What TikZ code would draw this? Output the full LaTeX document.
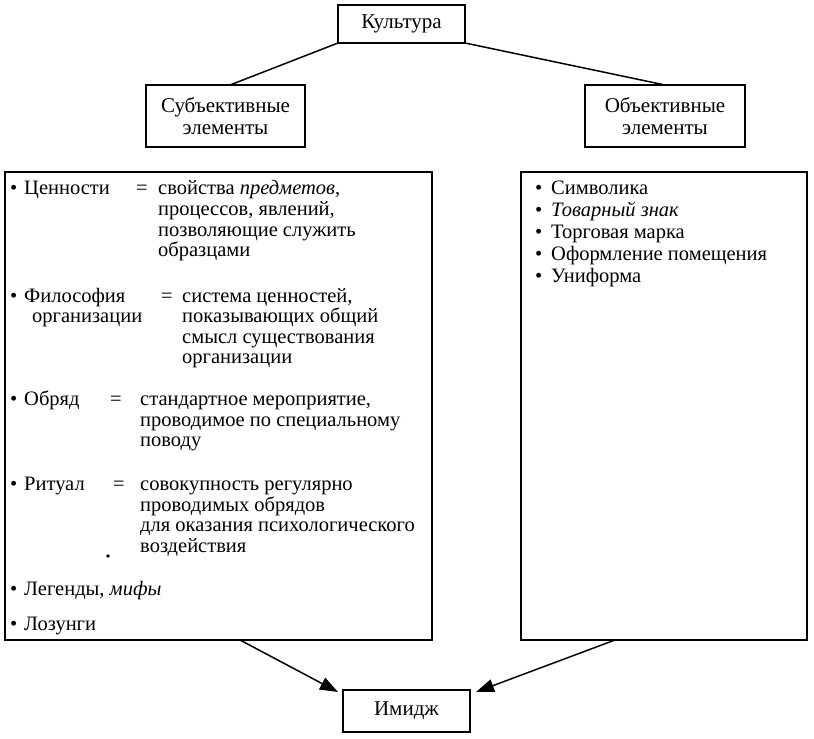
\documentclass[tikz,border=0pt]{standalone}
\usepackage{fontspec}
\setmainfont{Liberation Serif}
\usetikzlibrary{arrows.meta}
\begin{document}
\begin{tikzpicture}[x=1pt,y=-1pt,
  box/.style={draw,line width=1.6pt},
  tx/.style={anchor=base west,inner sep=0pt,font=\fontsize{20.5}{20}\selectfont},
  ctr/.style={align=center,inner sep=0pt,font=\fontsize{21}{22}\selectfont},
  arr/.style={line width=1.5pt,-{Triangle[length=18pt,width=13pt]}}]
\useasboundingbox (0,0) rectangle (814,739);
\draw[box] (338,5) rectangle (465,43);
\node[ctr] (k) at (401.5,24) {Культура};
\coordinate (kl) at (338,43); \coordinate (kr) at (465,43);
\draw[box] (146,85) rectangle (305,147);
\node[ctr] (s) at (225.5,116) {Субъективные\\элементы};
\coordinate (st) at (230,85);
\draw[box] (585,85) rectangle (745,147);
\node[ctr] (o) at (665,116) {Объективные\\элементы};
\coordinate (ot) at (665,85);
\draw[line width=1.5pt] (kl) -- (st);
\draw[line width=1.5pt] (kr) -- (ot);
\draw[box] (5,172) rectangle (432,640);
\draw[box] (521,172) rectangle (807,640);
\draw[box] (343,690) rectangle (470,732);
\node[ctr] (im) at (406.5,711) {Имидж};
\coordinate (lb) at (240,640); \coordinate (rb) at (615,640);
\coordinate (il) at (338,692); \coordinate (ir) at (476,692);
\draw[arr] (lb) -- (il);
\draw[arr] (rb) -- (ir);
% left text
\node[tx] at (10,194) {•}; \node[tx] at (24,194) {Ценности};
\node[tx] at (136,194) {=};
\node[tx] at (158,194) {свойства \textit{предметов},};
\node[tx] at (158,215) {процессов, явлений,};
\node[tx] at (158,236) {позволяющие служить};
\node[tx] at (158,256) {образцами};
\node[tx] at (10,302) {•}; \node[tx] at (24,302) {Философия};
\node[tx] at (32,322) {организации};
\node[tx] at (161,302) {=};
\node[tx] at (182,302) {система ценностей,};
\node[tx] at (182,322) {показывающих общий};
\node[tx] at (182,343) {смысл существования};
\node[tx] at (182,363) {организации};
\node[tx] at (10,405) {•}; \node[tx] at (24,405) {Обряд};
\node[tx] at (110,405) {=};
\node[tx] at (140,405) {стандартное мероприятие,};
\node[tx] at (140,426) {проводимое по специальному};
\node[tx] at (140,446) {поводу};
\node[tx] at (10,490) {•}; \node[tx] at (24,490) {Ритуал};
\node[tx] at (113,490) {=};
\node[tx] at (140,490) {совокупность регулярно};
\node[tx] at (140,511) {проводимых обрядов};
\node[tx] at (140,531) {для оказания психологического};
\node[tx] at (140,552) {воздействия};
\fill (108,556) circle (1.8pt);
\node[tx] at (10,595) {•}; \node[tx] at (24,595) {Легенды, \textit{мифы}};
\node[tx] at (10,630) {•}; \node[tx] at (24,630) {Лозунги};
% right text
\node[tx] at (535,194) {•}; \node[tx] at (551,194) {Символика};
\node[tx] at (535,216) {•}; \node[tx] at (551,216) {\textit{Товарный знак}};
\node[tx] at (535,238) {•}; \node[tx] at (551,238) {Торговая марка};
\node[tx] at (535,260) {•}; \node[tx] at (551,260) {Оформление помещения};
\node[tx] at (535,282) {•}; \node[tx] at (551,282) {Униформа};
\end{tikzpicture}
\end{document}
